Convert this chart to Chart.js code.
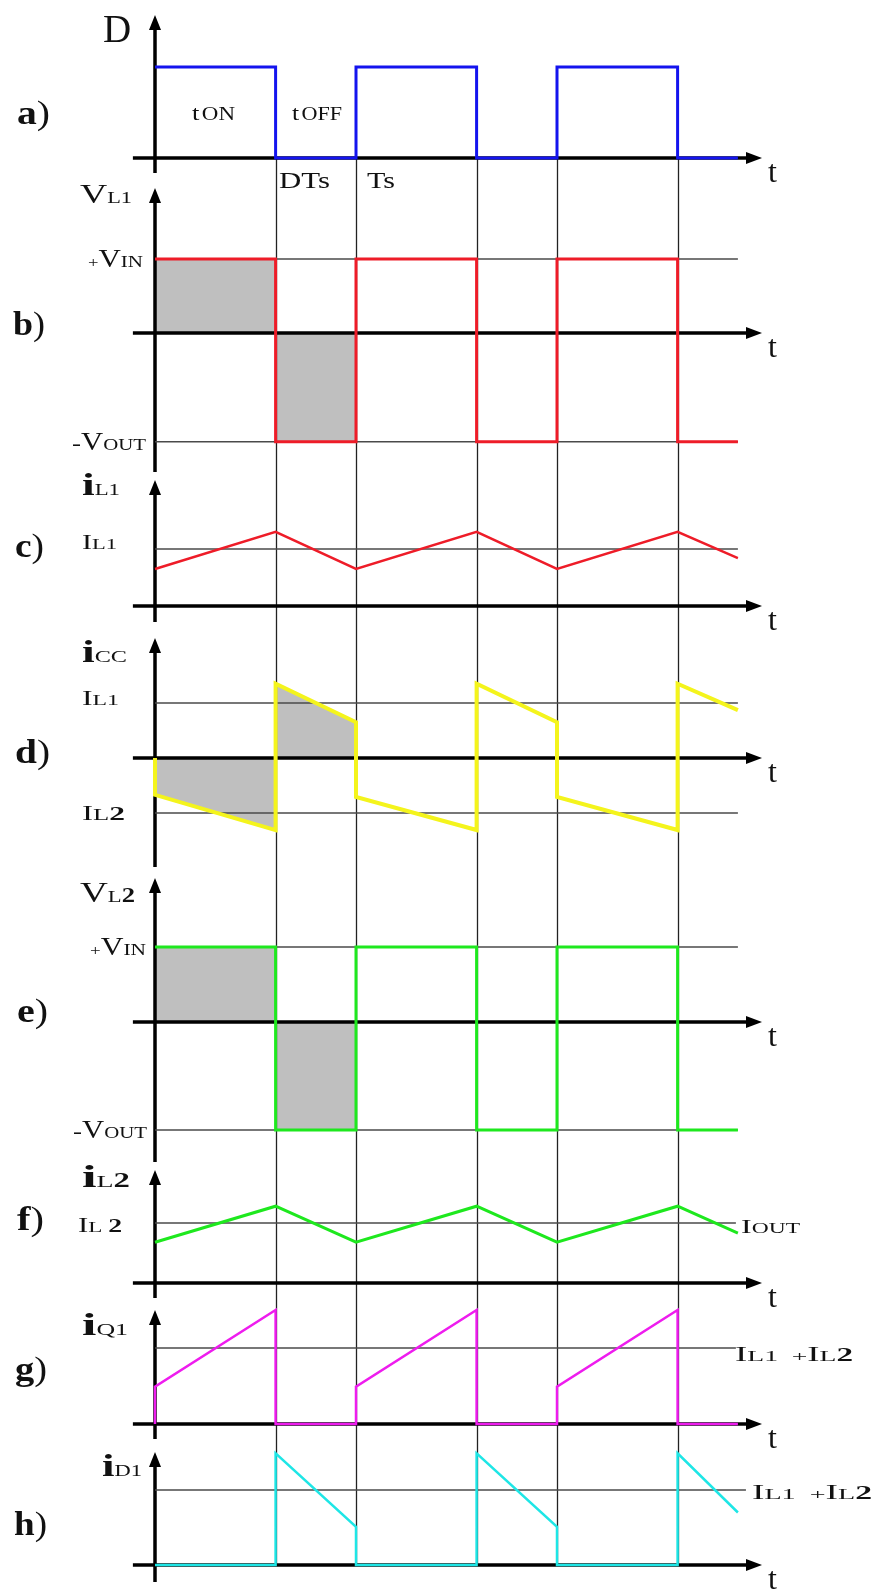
<!DOCTYPE html>
<html>
<head>
<meta charset="utf-8">
<script src="https://cdn.jsdelivr.net/npm/chart.js@4"></script>
<style>
  html, body { margin: 0; padding: 0; background: #fff; overflow: hidden; }
  #wrap { position: relative; width: 878px; height: 1591px; }
</style>
</head>
<body>
<div id="wrap"><canvas id="waves"></canvas></div>
<script>
// time in units of Ts, duty D = 0.6
const sqT   = [0, 0.6, 0.6, 1, 1, 1.6, 1.6, 2, 2, 2.6, 2.6, 2.9];
const duty  = [1, 1, 0, 0, 1, 1, 0, 0, 1, 1, 0, 0];
const vL1   = [1, 1, -1.47, -1.47, 1, 1, -1.47, -1.47, 1, 1, -1.47, -1.47];
const vL2   = [1, 1, -1.44, -1.44, 1, 1, -1.44, -1.44, 1, 1, -1.44, -1.44];

const triT  = [0, 0.6, 1, 1.6, 2, 2.6, 2.9];
const iL1   = [0.65, 1.3, 0.65, 1.3, 0.65, 1.3, 0.84];
const iL2   = [0.68, 1.28, 0.68, 1.28, 0.68, 1.28, 0.83];

const jumpT = [0, 0, 0.6, 0.6, 1, 1, 1.6, 1.6, 2, 2, 2.6, 2.6, 2.9];
const iCC   = [0, -0.67, -1.31, 1.35, 0.65, -0.71, -1.31, 1.35, 0.65, -0.71, -1.31, 1.35, 0.87];
const iQ1   = [0, 0.49, 1.5, 0, 0, 0.49, 1.5, 0, 0, 0.49, 1.5, 0, 0];
const iD1   = [0, 0, 0, 1.49, 0.51, 0, 0, 1.49, 0.51, 0, 0, 1.49, 0.7];

// time markers DTs, Ts, ...
const gridT = [0.6, 1, 1.6, 2, 2.6];

// reference levels [panel, value, end time]
const refLevels = [
  ['b', 1, 2.9], ['b', -1.47, 2.9],
  ['c', 1, 2.9],
  ['d', 1, 2.9], ['d', -1, 2.9],
  ['e', 1, 2.9], ['e', -1.44, 2.9],
  ['f', 1, 2.89],
  ['g', 1, 2.89],
  ['h', 1, 2.94]
];

// layout of each strip (pixels): zero line, pixels per unit, y-axis top/bottom
const W = 878, H = 1591, X0 = 155, PX_TS = 201;
const panels = [
  { id: 'a', zero: 158,  unit: 91, tip: 15,   end: 173 },
  { id: 'b', zero: 333,  unit: 74, tip: 188,  end: 472 },
  { id: 'c', zero: 606,  unit: 57, tip: 480,  end: 622 },
  { id: 'd', zero: 758,  unit: 55, tip: 638,  end: 867 },
  { id: 'e', zero: 1022, unit: 75, tip: 878,  end: 1162 },
  { id: 'f', zero: 1283, unit: 60, tip: 1170, end: 1298 },
  { id: 'g', zero: 1424, unit: 76, tip: 1310, end: 1439 },
  { id: 'h', zero: 1565, unit: 75, tip: 1452, end: 1582 }
];

const SERIF = '"Liberation Serif", "Times New Roman", serif';
// x, baseline y, target width, text parts [string, size, bold]
const texts = [
  { x: 103, y: 42,   w: 0,   parts: [['D', 39]] },
  { x: 192, y: 120,  w: 43,  parts: [['t', 22], [' ', 8], ['ON', 19]] },
  { x: 292, y: 120,  w: 50,  parts: [['t', 22], [' ', 8], ['OFF', 19]] },
  { x: 279, y: 188,  w: 51,  parts: [['DTs', 24]] },
  { x: 367, y: 188,  w: 28,  parts: [['Ts', 24]] },
  { x: 80,  y: 203,  w: 52,  parts: [['V', 27], ['L1', 16]] },
  { x: 88,  y: 267,  w: 55,  parts: [['+', 15], ['V', 25], ['IN', 17]] },
  { x: 72,  y: 450,  w: 74,  parts: [['-', 22], ['V', 25], ['OUT', 17]] },
  { x: 82,  y: 495,  w: 38,  parts: [['i', 32, 1], ['L1', 16]] },
  { x: 82,  y: 549,  w: 35,  parts: [['I', 20], ['L1', 15]] },
  { x: 82,  y: 662,  w: 45,  parts: [['i', 32, 1], ['CC', 17]] },
  { x: 82,  y: 705,  w: 37,  parts: [['I', 20], ['L1', 15]] },
  { x: 82,  y: 820,  w: 43,  parts: [['I', 20], ['L', 16], ['2', 19, 1]] },
  { x: 80,  y: 902,  w: 55,  parts: [['V', 29], ['L', 17], ['2', 20, 1]] },
  { x: 90,  y: 955,  w: 56,  parts: [['+', 15], ['V', 25], ['IN', 17]] },
  { x: 73,  y: 1138, w: 74,  parts: [['-', 22], ['V', 25], ['OUT', 17]] },
  { x: 82,  y: 1187, w: 48,  parts: [['i', 32, 1], ['L', 17], ['2', 20, 1]] },
  { x: 78,  y: 1232, w: 44,  parts: [['I', 20], ['L ', 15], ['2', 18, 1]] },
  { x: 741, y: 1233, w: 59,  parts: [['I', 19], ['OUT', 14]] },
  { x: 82,  y: 1335, w: 46,  parts: [['i', 32, 1], ['Q1', 16]] },
  { x: 735, y: 1361, w: 118, parts: [['I', 20], ['L1', 15], ['  +', 15], ['I', 20], ['L', 15], ['2', 18, 1]] },
  { x: 102, y: 1476, w: 40,  parts: [['i', 32, 1], ['D1', 16]] },
  { x: 752, y: 1499, w: 120, parts: [['I', 20], ['L1', 15], ['  +', 15], ['I', 20], ['L', 15], ['2', 18, 1]] }
];
const panelTags = [
  ['a', 17, 124, 33], ['b', 13, 335, 32], ['c', 15, 557, 29], ['d', 15, 763, 35],
  ['e', 17, 1022, 31], ['f', 17, 1230, 27], ['g', 15, 1380, 32], ['h', 14, 1535, 33]
];

const pts = (ts, vs) => ts.map((t, i) => ({ x: t, y: vs[i] }));

function signal(panel, ts, vs, color, width) {
  return {
    data: pts(ts, vs), yAxisID: panel, borderColor: color, borderWidth: width,
    pointRadius: 0, fill: false, order: 0, borderJoinStyle: 'miter'
  };
}
function shade(panel, ts, vs) {
  return {
    data: pts(ts, vs), yAxisID: panel, borderWidth: 0, borderColor: 'rgba(0,0,0,0)',
    backgroundColor: '#bfbfbf', pointRadius: 0, fill: { value: 0 }, order: 3
  };
}

const datasets = [
  signal('a', sqT, duty, '#1414ee', 3),
  signal('b', sqT, vL1, '#ee1c28', 3),
  signal('c', triT, iL1, '#ee1c28', 2.5),
  signal('d', jumpT, iCC, '#f4f41c', 4),
  signal('e', sqT, vL2, '#1ee81e', 3),
  signal('f', triT, iL2, '#1ee81e', 3),
  signal('g', jumpT, iQ1, '#ee1cee', 2.5),
  signal('h', jumpT, iD1, '#1ee6e6', 2.5),
  shade('b', sqT.slice(0, 4), vL1.slice(0, 4)),
  shade('d', jumpT.slice(1, 5), iCC.slice(1, 5)),
  shade('e', sqT.slice(0, 4), vL2.slice(0, 4))
];
refLevels.forEach(([p, v, tEnd]) => {
  datasets.push({
    data: [{ x: 0, y: v }, { x: tEnd, y: v }], yAxisID: p,
    borderColor: '#4a4a4a', borderWidth: 1.6, pointRadius: 0, fill: false, order: 1
  });
});

const scales = {
  x: { type: 'linear', display: false, min: -X0 / PX_TS, max: (W - X0) / PX_TS }
};
panels.forEach(p => {
  scales[p.id] = {
    type: 'linear', display: false, position: 'left',
    min: -(H - p.zero) / p.unit, max: p.zero / p.unit
  };
});

function fontOf(size, bold) {
  return (bold ? 'bold ' : '') + size + 'px ' + SERIF;
}
// draws mixed-size text, squeezed/stretched horizontally to width w (0 = natural)
function drawParts(ctx, parts, x, y, w) {
  ctx.textBaseline = 'alphabetic';
  ctx.textAlign = 'left';
  let natural = 0;
  parts.forEach(([s, size, bold]) => {
    ctx.font = fontOf(size, bold);
    natural += ctx.measureText(s).width;
  });
  const sx = w ? w / natural : 1;
  ctx.save();
  ctx.translate(x, y);
  ctx.scale(sx, 1);
  let cx = 0;
  parts.forEach(([s, size, bold]) => {
    ctx.font = fontOf(size, bold);
    ctx.fillText(s, cx, 0);
    cx += ctx.measureText(s).width;
  });
  ctx.restore();
}

const frame = {
  id: 'frame',
  beforeDatasetsDraw(chart) {
    const ctx = chart.ctx, xs = chart.scales.x;
    const x0 = xs.getPixelForValue(0);
    ctx.save();
    // time markers through all strips
    const yTop = chart.scales.a.getPixelForValue(0);
    const yBot = chart.scales.h.getPixelForValue(0);
    ctx.strokeStyle = '#222';
    ctx.lineWidth = 1.3;
    gridT.forEach(t => {
      const x = Math.round(xs.getPixelForValue(t)) + 0.5;
      ctx.beginPath(); ctx.moveTo(x, yTop); ctx.lineTo(x, yBot); ctx.stroke();
    });
    // axes with arrows
    ctx.strokeStyle = '#000';
    ctx.fillStyle = '#000';
    ctx.lineWidth = 3.5;
    const xa = xs.getPixelForValue(-0.11), xb = xs.getPixelForValue(3.02);
    panels.forEach(p => {
      const y0 = chart.scales[p.id].getPixelForValue(0);
      ctx.beginPath(); ctx.moveTo(xa, y0); ctx.lineTo(xb - 12, y0); ctx.stroke();
      ctx.beginPath(); ctx.moveTo(xb, y0); ctx.lineTo(xb - 16, y0 - 6); ctx.lineTo(xb - 16, y0 + 6); ctx.closePath(); ctx.fill();
      ctx.beginPath(); ctx.moveTo(x0, p.tip + 10); ctx.lineTo(x0, p.end); ctx.stroke();
      ctx.beginPath(); ctx.moveTo(x0, p.tip); ctx.lineTo(x0 - 6, p.tip + 15); ctx.lineTo(x0 + 6, p.tip + 15); ctx.closePath(); ctx.fill();
    });
    ctx.restore();
  },
  afterDraw(chart) {
    const ctx = chart.ctx;
    ctx.save();
    ctx.fillStyle = '#111';
    texts.forEach(t => drawParts(ctx, t.parts, t.x, t.y, t.w));
    panelTags.forEach(([s, x, y, w]) => drawParts(ctx, [[s, 34, 1], [')', 34]], x, y, w));
    const xt = chart.scales.x.getPixelForValue(3.05);
    panels.forEach(p => {
      const y0 = chart.scales[p.id].getPixelForValue(0);
      drawParts(ctx, [['t', 32]], xt, y0 + 24, 0);
    });
    ctx.restore();
  }
};

new Chart(document.getElementById('waves'), {
  type: 'line',
  data: { datasets },
  options: {
    responsive: true,
    maintainAspectRatio: false,
    animation: false,
    devicePixelRatio: 1,
    layout: { padding: 0 },
    scales,
    plugins: {
      legend: { display: false },
      tooltip: { enabled: false },
      filler: { drawTime: 'beforeDraw' }
    },
    elements: { line: { tension: 0 } }
  },
  plugins: [frame]
});
</script>
</body>
</html>
